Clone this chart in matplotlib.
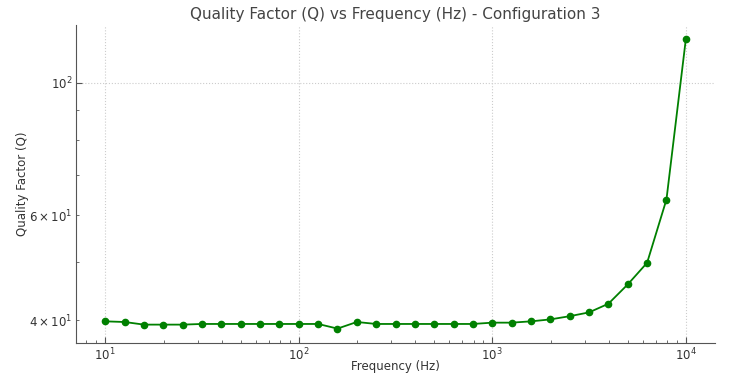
import matplotlib.pyplot as plt

# frequencies (Hz), 10 points per decade
freq = [10, 12.59, 15.85, 19.95, 25.12, 31.62, 39.81, 50.12, 63.1, 79.43,
        100, 125.9, 158.5, 199.5, 251.2, 316.2, 398.1, 501.2, 631, 794.3,
        1000, 1259, 1585, 1995, 2512, 3162, 3981, 5012, 6310, 7943, 10000]
q_factor = [39.8, 39.7, 39.3, 39.3, 39.3, 39.4, 39.4, 39.4, 39.4, 39.4,
            39.4, 39.4, 38.7, 39.7, 39.4, 39.4, 39.4, 39.4, 39.4, 39.4,
            39.6, 39.6, 39.8, 40.1, 40.6, 41.2, 42.6, 45.9, 49.9, 63.7, 118.2]

fig, ax = plt.subplots(figsize=(7.4, 3.77), dpi=100)
ax.plot(freq, q_factor, marker='o', markersize=4.5, color='green', linewidth=1.3)
ax.set_xscale('log')
ax.set_yscale('log')

ax.set_title('Quality Factor (Q) vs Frequency (Hz) - Configuration 3', fontsize=11, color='#444444', pad=4)
ax.set_xlabel('Frequency (Hz)', fontsize=8.5, color='#333333', labelpad=-2)
ax.set_ylabel('Quality Factor (Q)', fontsize=8.5, color='#333333', labelpad=0)

ax.grid(True, which='major', linestyle=':', color='#cccccc', linewidth=0.8)
for side in ['top', 'right']:
    ax.spines[side].set_visible(False)
for side in ['left', 'bottom']:
    ax.spines[side].set_color('#555555')
ax.tick_params(which='both', direction='in', colors='#555555', labelcolor='#333333', labelsize=8.5, pad=2.5)
ax.tick_params(which='major', length=4)
ax.tick_params(which='minor', length=2.5)

plt.subplots_adjust(left=0.103, right=0.966, top=0.934, bottom=0.09)
plt.savefig('out.png')
